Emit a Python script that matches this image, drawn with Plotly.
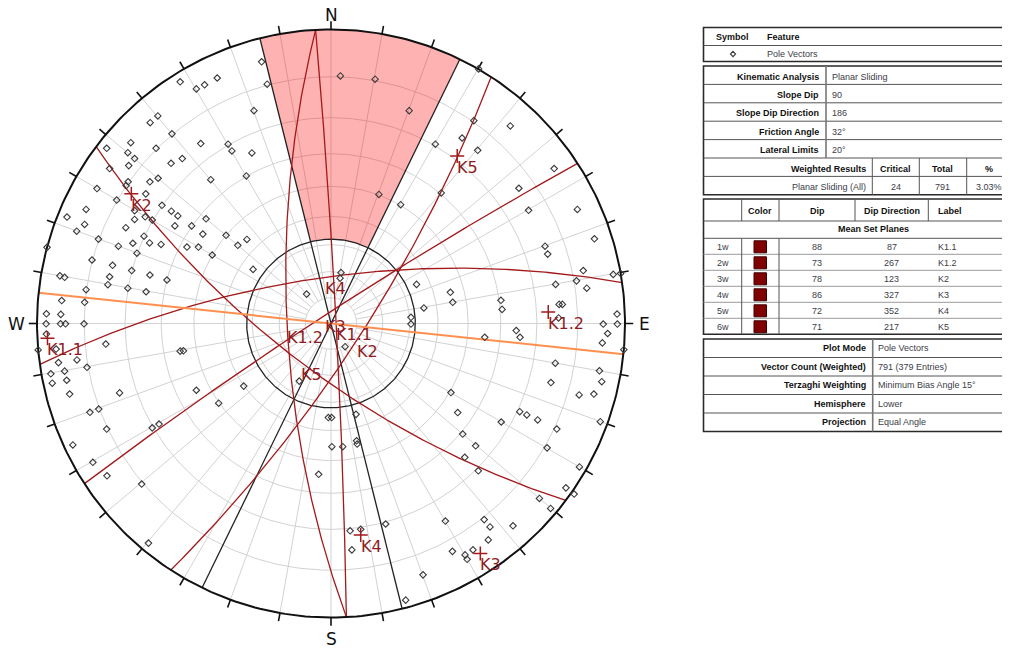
import numpy as np
import plotly.graph_objects as go

# ------------------------------------------------------------------ data
set_ids = ["1w", "2w", "3w", "4w", "5w", "6w"]
set_dip = [88, 73, 78, 86, 72, 71]
set_dipdir = [87, 267, 123, 327, 352, 217]
set_label = ["K1.1", "K1.2", "K2", "K3", "K4", "K5"]

slope_dip = 90
slope_dipdir = 186
friction_angle = 32
lateral_limit = 20
critical_count = 24
total_count = 791
entries = 379

# pole vectors, equal-angle lower hemisphere, east / north in % of primitive radius
pole_e = [
    -23.6, -21.7, -51.3, -45.8, -43.0, -38.7, -26.2, -58.9, -61.5, -54.1,
    -68.1, -76.3, -69.1, -59.5, -44.3, -35.0, -33.7, -26.9, -66.8, -68.8,
    -54.4, -50.6, -75.3, -58.8, -61.6, -69.0, -69.7, -40.9, -28.8, -79.6,
    -63.0, -72.9, -57.5, -83.3, -66.8, -54.3, -52.1, -89.8, -66.8, -63.2,
    -60.8, -42.5, -83.8, -69.8, -53.1, -47.4, -86.5, -43.6, -35.7, -63.6,
    -79.1, -28.6, -31.7, -67.4, -61.7, -57.8, -72.3, -49.0, -45.1, -96.6,
    -66.0, -40.4, -81.3, -74.3, -26.5, -67.8, -61.6, -75.3, -92.2, -90.6,
    -55.8, -75.9, -83.3, -69.1, -62.9, -8.3, -91.6, -83.8, -96.8, -91.9,
    -96.9, -92.0, -90.3, -84.0,
    3.2, 15.0, 26.6, 16.3,
    50.2, 48.6, 44.6, 49.9, 35.5, 61.0, 75.9, 63.9, 37.5, 23.7,
    67.2, 83.8, 89.6, 72.8, 73.7, 85.8, 96.0, 98.5, 83.5, 87.0,
    76.4, 3.4, 3.1, 29.1, 40.6, 41.4, 31.6, 57.8, 58.2, 77.6,
    78.7, 27.2, 97.3, 92.6, 97.4, 77.4, 27.2, 94.1, 92.3, 99.6,
    76.3, 91.3,
    -96.8, -99.6, -93.5, -76.6, -92.7, -86.4, -83.0, -95.3, -90.6, -94.8,
    -89.9, -88.9, -71.9, -51.3, -50.2, -45.8, -29.7, -38.2, -82.0, -79.0,
    -76.3, -60.8, -58.5, -87.8, -81.0, -76.2, -64.4, -62.1, -10.8, -0.9,
    0.2, 0.3, -4.2, 4.8,
    52.3, 63.0, 64.3, 74.8, 92.1, 40.8, 84.4, 89.4, 43.1, 64.2,
    66.6, 70.3, 57.9, 91.6, 76.8, 44.8, 49.2, 73.5, 45.5, 84.5,
    50.1, 79.9, 82.7, 70.9, 74.7, 8.5, 4.0, 8.7, 8.9, 18.6,
    38.9, 52.1, 54.1, 61.9, 53.5, 6.5, 10.1, 7.1, 41.3, 45.6,
    46.3, 48.3, 31.3, 25.4,
]
pole_n = [
    89.0, 81.4, 82.2, 79.8, 81.2, 83.5, 72.4, 70.6, 68.3, 64.5,
    61.5, 59.6, 58.1, 59.6, 61.2, 61.0, 58.7, 58.0, 56.1, 53.7,
    54.5, 56.1, 52.7, 49.4, 48.2, 48.2, 46.9, 48.9, 50.2, 45.9,
    44.1, 42.0, 40.2, 38.8, 38.4, 38.2, 36.6, 36.2, 35.4, 36.3,
    35.2, 35.6, 33.7, 32.6, 33.2, 33.2, 31.4, 30.4, 30.0, 29.7,
    28.7, 28.6, 26.6, 27.3, 27.4, 26.9, 26.3, 26.0, 26.0, 25.9,
    23.9, 23.3, 21.6, 19.8, 18.4, 18.0, 16.5, 15.9, 16.2, 15.7,
    14.8, 13.2, 11.5, 12.0, 10.8, 10.0, 7.8, 7.2, 3.3, 3.1,
    -0.1, -0.1, -0.1, -0.1,
    84.2, 83.1, 72.4, 43.9,
    86.6, 69.0, 63.1, 58.9, 61.0, 67.2, 52.7, 46.0, 44.4, 40.4,
    38.5, 38.8, 28.8, 26.3, 23.6, 18.0, 16.7, 17.0, 14.5, 12.0,
    13.3, 17.3, 15.4, 13.3, 10.6, 7.2, 5.3, 7.9, 4.8, 6.5,
    6.5, 2.1, 3.2, -0.2, -0.2, 1.9, -0.2, -3.4, -6.6, -8.9,
    -13.5, -16.1,
    -3.6, -9.0, -8.7, -7.0, -13.3, -12.4, -14.9, -17.1, -16.2, -20.3,
    -19.3, -24.0, -23.6, -9.4, -9.3, -22.7, -21.3, -27.1, -30.2, -29.1,
    -35.9, -35.5, -34.2, -41.3, -47.2, -51.8, -54.6, -74.7, -19.6, -32.0,
    -32.0, -41.9, -51.3, -7.9,
    -4.7, -2.4, -4.7, -20.1, -19.8, -23.5, -24.3, -24.0, -30.3, -30.0,
    -31.1, -32.8, -33.5, -33.4, -35.9, -37.6, -41.6, -42.3, -45.5, -48.8,
    -50.1, -55.9, -58.0, -59.5, -62.9, -30.9, -41.9, -39.9, -41.0, -68.2,
    -67.2, -66.7, -69.2, -68.8, -73.6, -70.5, -70.0, -77.0, -77.5, -78.7,
    -80.2, -77.0, -85.5, -94.1,
]

kin_labels = ["Kinematic Analysis", "Slope Dip", "Slope Dip Direction",
              "Friction Angle", "Lateral Limits"]
kin_values = ["Planar Sliding", str(slope_dip), str(slope_dipdir),
              f"{friction_angle}°", f"{lateral_limit}°"]
weighted_header = ["Weighted Results", "Critical", "Total", "%"]
weighted_row = ["Planar Sliding (All)", str(critical_count), str(total_count),
                f"{100 * critical_count / total_count:.2f}%"]
info_labels = ["Plot Mode", "Vector Count (Weighted)", "Terzaghi Weighting",
               "Hemisphere", "Projection"]
info_values = ["Pole Vectors", f"{total_count} ({entries} Entries)",
               "Minimum Bias Angle 15°", "Lower", "Equal Angle"]

# ------------------------------------------------------------------ style / geometry
OFF = 8                       # page body margin
W, H = 1010 - OFF, 648 - OFF  # figure size
CX, CY, S = 331.0 - OFF, 323.5 - OFF, 2.94     # centre (figure px), px per unit
R = 100.0
XDOM = 0.67
GRID = "#d2d2d2"
RED = "#a3191c"
LABEL = "#8e1b24"
ORANGE = "#ff8f4f"

d2r = np.radians


def proj(vx, vy, vz):
    k = R / (1.0 - vz)
    return vx * k, vy * k


def vec(trend, plunge):
    t, p = d2r(trend), d2r(plunge)
    return np.sin(t) * np.cos(p), np.cos(t) * np.cos(p), -np.sin(p)


def great_circle(dip, dd, n=241):
    a, d = d2r(dd), d2r(dip)
    s = np.array([np.sin(a - np.pi / 2), np.cos(a - np.pi / 2), 0.0])
    dv = np.array([np.sin(a) * np.cos(d), np.cos(a) * np.cos(d), -np.sin(d)])
    t = np.linspace(0, np.pi, n)
    v = np.outer(np.cos(t), s) + np.outer(np.sin(t), dv)
    return proj(v[:, 0], v[:, 1], v[:, 2])


def circ(r, a0=0, a1=360, n=361):
    a = d2r(np.linspace(a0, a1, n))
    return r * np.sin(a), r * np.cos(a)


fig = go.Figure()


def line(x, y, color, width, **kw):
    fig.add_trace(go.Scatter(x=x, y=y, mode="lines", line=dict(color=color, width=width),
                             hoverinfo="skip", **kw))


# grid: concentric circles every 10 deg
gx, gy = [], []
for k in range(1, 9):
    cx_, cy_ = circ(R * np.tan(d2r(5 * k)))
    gx += list(cx_) + [None]
    gy += list(cy_) + [None]
r10 = R * np.tan(d2r(5))
for az in range(0, 360, 10):
    r0 = 0 if az % 90 == 0 else r10
    gx += [r0 * np.sin(d2r(az)), R * np.sin(d2r(az)), None]
    gy += [r0 * np.cos(d2r(az)), R * np.cos(d2r(az)), None]
line(gx, gy, GRID, 1)

# critical zone
rf = R * np.tan(d2r(friction_angle / 2))
lim0 = slope_dipdir + 180 - lateral_limit
lim1 = slope_dipdir + 180 + lateral_limit
ox, oy = circ(R, lim0, lim1, 81)
ix, iy = circ(rf, lim1, lim0, 81)
fig.add_trace(go.Scatter(x=list(ox) + list(ix), y=list(oy) + list(iy), fill="toself",
                         fillcolor="rgba(255,0,0,0.30)", mode="lines",
                         line=dict(width=0), hoverinfo="skip"))

# friction circle, lateral limits
fx, fy = circ(rf)
line(fx, fy, "#222222", 1.3)
lx, ly = [], []
for az in (lim0, lim1):
    lx += [R * np.sin(d2r(az)), R * np.sin(d2r(az + 180)), None]
    ly += [R * np.cos(d2r(az)), R * np.cos(d2r(az + 180)), None]
line(lx, ly, "#222222", 1.3)

# mean set planes
for dip, dd in zip(set_dip, set_dipdir):
    x, y = great_circle(dip, dd)
    line(x, y, RED, 1.3)

# slope plane
sx, sy = great_circle(slope_dip, slope_dipdir)
line(sx, sy, ORANGE, 2)

# primitive + ticks
px_, py_ = circ(R)
line(px_, py_, "#111111", 2)
tx, ty = [], []
for az in range(0, 360, 10):
    tx += [R * np.sin(d2r(az)), (R + 2.8) * np.sin(d2r(az)), None]
    ty += [R * np.cos(d2r(az)), (R + 2.8) * np.cos(d2r(az)), None]
line(tx, ty, "#111111", 1.6)

# pole vectors
fig.add_trace(go.Scatter(x=pole_e, y=pole_n, mode="markers", hoverinfo="skip",
                         marker=dict(symbol="diamond-open", size=5, color="#3a3a3a",
                                     line=dict(width=1.1, color="#3a3a3a"))))

# poles of mean sets (+) and labels
pole_x, pole_y, dv_x, dv_y = [], [], [], []
for dip, dd in zip(set_dip, set_dipdir):
    a, b = proj(*vec(dd + 180, 90 - dip))
    pole_x.append(a); pole_y.append(b)
    a, b = proj(*vec(dd, dip))
    dv_x.append(a); dv_y.append(b)
fig.add_trace(go.Scatter(x=pole_x, y=pole_y, mode="markers", hoverinfo="skip",
                         marker=dict(symbol="cross-thin-open", size=10, color=RED,
                                     line=dict(width=1.5, color=RED))))
for lab, a, b, c, d in zip(set_label, pole_x, pole_y, dv_x, dv_y):
    for xx, yy in ((a, b), (c, d)):
        fig.add_annotation(x=xx, y=yy, text=lab, showarrow=False, xanchor="left",
                           yanchor="top", xshift=-2,
                           font=dict(family="DejaVu Sans", size=16, color=LABEL))

for t, az, off in (("N", 0, 5.0), ("E", 90, 6.6), ("S", 180, 7.4), ("W", 270, 7.0)):
    fig.add_annotation(x=(R + off) * np.sin(d2r(az)), y=(R + off) * np.cos(d2r(az)),
                       text=t, showarrow=False, xanchor="center", yanchor="middle",
                       font=dict(family="DejaVu Sans", size=17, color="#111111"))

# ------------------------------------------------------------------ table
shapes = []


def X(p):
    return (p - OFF) / W


def Y(p):
    return 1 - (p - OFF) / H


def seg(x0, y0, x1, y1, color="#555555", w=1):
    shapes.append(dict(type="line", xref="paper", yref="paper", x0=X(x0), y0=Y(y0),
                       x1=X(x1), y1=Y(y1), line=dict(color=color, width=w)))


def box(x0, y0, x1, y1, color="#2a2a2a", w=1.6, fill=None):
    shapes.append(dict(type="rect", xref="paper", yref="paper", x0=X(x0), y0=Y(y0),
                       x1=X(x1), y1=Y(y1), line=dict(color=color, width=w),
                       fillcolor=fill))


def txt(s, x, y, anchor="left", bold=False, color=None):
    fig.add_annotation(xref="paper", yref="paper", x=X(x), y=Y(y),
                       text=f"<b>{s}</b>" if bold else s, showarrow=False,
                       xanchor=anchor, yanchor="middle",
                       font=dict(family="Liberation Sans", size=9,
                                 color=color or ("#111111" if bold else "#3c3c48")))


TL, TR = 703.5, 1016
# table 1
box(TL, 27.5, TR, 61.5)
seg(TL, 45.5, TR, 45.5)
txt("Symbol", 732, 36.5, "center", True)
txt("Feature", 765, 36.5, "left", True)
shapes.append(dict(type="path", xref="paper", yref="paper",
                   path=f"M {X(733)},{Y(51.4)} L {X(735.6)},{Y(54)} L {X(733)},{Y(56.6)} "
                        f"L {X(730.4)},{Y(54)} Z",
                   line=dict(color="#3a3a3a", width=1.1)))
txt("Pole Vectors", 765, 54.5)

# table 2
rh = 18.4
top2 = 66
rows2 = [top2 + i * rh for i in range(8)]
box(TL, rows2[0], TR, rows2[-1])
for yv in rows2[1:-1]:
    seg(TL, yv, TR, yv)
seg(826, rows2[0], 826, rows2[5], "#777777", 1.6)
for xv in (872.3, 919.3, 966.7):
    seg(xv, rows2[5], xv, rows2[7], "#555555", 1)
for i, (lab, val) in enumerate(zip(kin_labels, kin_values)):
    yc = rows2[i] + rh / 2 + 1.5
    txt(lab, 820.5, yc, "right", True)
    txt(val, 830, yc)
col_w = [868.3, 895.7, 942.3, 989.3]
for j, h in enumerate(weighted_header):
    txt(h, col_w[j], rows2[5] + rh / 2 + 1.5, "right" if j == 0 else "center", True)
for j, v in enumerate(weighted_row):
    txt(v, col_w[j], rows2[6] + rh / 2 + 1.5, "right" if j == 0 else "center")

# table 3
top3, hdr3, msp3 = 199, 221, 238.3
drh = 16.0
bot3 = msp3 + 6 * drh
box(TL, top3, TR, bot3)
seg(TL, hdr3, TR, hdr3)
seg(TL, msp3, TR, msp3)
for i in range(1, 6):
    seg(TL, msp3 + i * drh, TR, msp3 + i * drh, "#9a9a9a", 1)
for xv in (741.7, 779, 855, 928.3):
    seg(xv, top3, xv, hdr3)
for xv in (741.7, 779):
    seg(xv, msp3, xv, bot3)
txt("Color", 760.3, 210.5, "center", True)
txt("Dip", 817.3, 210.5, "center", True)
txt("Dip Direction", 891.7, 210.5, "center", True)
txt("Label", 936, 210.5, "left", True)
txt("Mean Set Planes", 873.3, 229, "center", True)
for i, (sid, dip, dd, lab) in enumerate(zip(set_ids, set_dip, set_dipdir, set_label)):
    yc = msp3 + i * drh + drh / 2 + 0.5
    txt(sid, 715, yc)
    box(754, yc - 6, 766.5, yc + 6, color="#3a0000", w=1, fill="#800000")
    txt(str(dip), 817.3, yc, "center")
    txt(str(dd), 891.7, yc, "center")
    txt(lab, 936, yc)

# table 4
top4, rh4 = 339, 18.5
rows4 = [top4 + i * rh4 for i in range(6)]
box(TL, rows4[0], TR, rows4[-1])
for yv in rows4[1:-1]:
    seg(TL, yv, TR, yv)
seg(872.7, rows4[0], 872.7, rows4[-1], "#777777", 1.6)
for i, (lab, val) in enumerate(zip(info_labels, info_values)):
    yc = rows4[i] + rh4 / 2
    txt(lab, 868.3, yc, "right", True)
    txt(val, 875.7, yc)

# ------------------------------------------------------------------ layout
fig.update_layout(
    width=W, height=H, margin=dict(l=0, r=0, t=0, b=0),
    paper_bgcolor="white", plot_bgcolor="white", showlegend=False,
    shapes=shapes,
    xaxis=dict(domain=[0, XDOM], range=[-CX / S, (XDOM * W - CX) / S], visible=False,
               fixedrange=True),
    yaxis=dict(domain=[0, 1], range=[-(H - CY) / S, CY / S], visible=False,
               fixedrange=True),
)
fig.write_html("out.html")
